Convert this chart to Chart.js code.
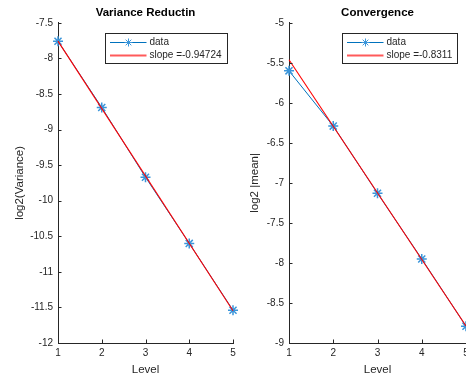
<!DOCTYPE html>
<html>
<head>
<meta charset="utf-8">
<script src="https://cdn.jsdelivr.net/npm/chart.js@4/dist/chart.umd.min.js"></script>
<style>
  html, body { margin: 0; padding: 0; background: #fff; overflow: hidden; width: 466px; height: 383px; }
  #wrap { position: relative; width: 466px; height: 383px; overflow: hidden; }
  canvas { position: absolute; top: 0; }
</style>
</head>
<body>
<div id="wrap">
  <canvas id="c1" width="240" height="383" style="left:0px"></canvas>
  <canvas id="c2" width="240" height="383" style="left:240px"></canvas>
</div>
<script>
// ---- data ----
const levels = [1, 2, 3, 4, 5];
const varianceLog2 = [-7.76, -8.69, -9.67, -10.60, -11.54];
const meanLog2 = [-5.60, -6.29, -7.13, -7.95, -8.79];
const fitLevels = [1, 5];
const varianceFit = [-7.757, -11.546];
const meanFit = [-5.462, -8.787];
const varianceSlopeLabel = 'slope =-0.94724';
const meanSlopeLabel = 'slope =-0.8311';
const xTicks = [1, 2, 3, 4, 5];

const AX = '#262626';
const FONT = "'Liberation Sans', Arial, Helvetica, sans-serif";

const inwardTicks = {
  id: 'inwardTicks',
  afterDraw(chart) {
    const ctx = chart.ctx, ca = chart.chartArea;
    const xs = chart.scales.x, ys = chart.scales.y;
    ctx.save();
    ctx.strokeStyle = AX;
    ctx.lineWidth = 1;
    ctx.beginPath();
    xs.ticks.forEach(t => {
      const p = Math.round(xs.getPixelForValue(t.value)) + 0.5;
      ctx.moveTo(p, ca.bottom); ctx.lineTo(p, ca.bottom - 3.5);
    });
    ys.ticks.forEach(t => {
      const p = Math.round(ys.getPixelForValue(t.value)) + 0.5;
      ctx.moveTo(ca.left, p); ctx.lineTo(ca.left + 3.5, p);
    });
    ctx.stroke();
    ctx.restore();
  }
};

const boxLegend = {
  id: 'boxLegend',
  afterDraw(chart, args, opts) {
    const ctx = chart.ctx, ca = chart.chartArea;
    const w = opts.width, h = 30;
    const x0 = Math.round(ca.right - opts.rightGap - w) + 0.5;
    const y0 = Math.round(ca.top + 10) + 0.5;
    ctx.save();
    ctx.fillStyle = '#fff';
    ctx.fillRect(x0, y0, w, h);
    ctx.strokeStyle = AX;
    ctx.lineWidth = 1;
    ctx.strokeRect(x0, y0, w, h);
    const ds = chart.data.datasets;
    const rows = [y0 + 9, y0 + 22];
    ctx.font = '10px ' + FONT;
    ctx.textBaseline = 'middle';
    ctx.textAlign = 'left';
    ctx.strokeStyle = ds[0].borderColor;
    ctx.lineWidth = 1;
    ctx.beginPath();
    ctx.moveTo(x0 + 4.5, rows[0]); ctx.lineTo(x0 + 41, rows[0]);
    ctx.stroke();
    ctx.strokeStyle = ds[0].pointBorderColor;
    ctx.fillStyle = ds[0].pointBorderColor;
    Chart.helpers.drawPoint(ctx, { pointStyle: 'star', radius: 4, borderWidth: 1.3 }, x0 + 23, rows[0]);
    ctx.strokeStyle = '#ff5a5a';
    ctx.lineWidth = 2;
    ctx.beginPath();
    ctx.moveTo(x0 + 4.5, rows[1]); ctx.lineTo(x0 + 41, rows[1]);
    ctx.stroke();
    ctx.fillStyle = AX;
    ctx.fillText(ds[0].label, x0 + 44, rows[0]);
    ctx.fillText(ds[1].label, x0 + 44, rows[1]);
    ctx.restore();
  }
};

function makeChart(id, cfg) {
  const dataPts = levels.map((l, i) => ({ x: l, y: cfg.values[i] }));
  const fitPts = fitLevels.map((l, i) => ({ x: l, y: cfg.fit[i] }));
  return new Chart(document.getElementById(id), {
    type: 'line',
    data: {
      datasets: [
        {
          label: 'data', data: dataPts, order: 1, clip: false,
          borderColor: '#0072BD', borderWidth: 1,
          pointStyle: 'star', pointRadius: 5, pointBorderWidth: 1.5,
          pointBorderColor: '#3a95da', pointBackgroundColor: '#3a95da'
        },
        {
          label: cfg.slopeLabel, data: fitPts, order: 0, clip: false,
          borderColor: '#FF0000', borderWidth: 1.1, pointRadius: 0
        }
      ]
    },
    options: {
      responsive: false,
      animation: false,
      devicePixelRatio: 1,
      layout: { padding: { top: 0, left: 0, right: cfg.padRight, bottom: 0 } },
      plugins: {
        legend: { display: false },
        tooltip: { enabled: false },
        title: {
          display: true, text: cfg.title, fullSize: false,
          color: '#000', font: { family: FONT, size: 11.5, weight: 'bold' },
          padding: { top: 6, bottom: 3 }
        },
        boxLegend: { width: cfg.legendW, rightGap: cfg.legendGap }
      },
      scales: {
        x: {
          type: 'linear', min: 1, max: 5,
          afterBuildTicks: s => { s.ticks = xTicks.map(v => ({ value: v })); },
          afterFit: s => { s.height = 40; },
          grid: { display: true, drawOnChartArea: false, drawTicks: false },
          border: { display: true, color: AX, width: 1 },
          ticks: { color: AX, font: { family: FONT, size: 10 }, padding: 4, maxRotation: 0 },
          title: { display: true, text: 'Level', color: AX, font: { family: FONT, size: 11.5 }, padding: { top: 0, bottom: 6 } }
        },
        y: {
          type: 'linear', min: cfg.yMin, max: cfg.yMax,
          afterBuildTicks: s => { s.ticks = cfg.yTicks.map(v => ({ value: v })); },
          afterFit: s => { s.width = cfg.yWidth; },
          grid: { display: true, drawOnChartArea: false, drawTicks: false },
          border: { display: true, color: AX, width: 1 },
          ticks: { color: AX, font: { family: FONT, size: 10 }, padding: 5, callback: v => String(v) },
          title: { display: true, text: cfg.yTitle, color: AX, font: { family: FONT, size: 11.5 }, padding: { top: cfg.yTitlePad, bottom: 0 } }
        }
      }
    },
    plugins: [inwardTicks, boxLegend]
  });
}

const varianceTicks = [-12, -11.5, -11, -10.5, -10, -9.5, -9, -8.5, -8, -7.5];
const meanTicks = [-9, -8.5, -8, -7.5, -7, -6.5, -6, -5.5, -5];

makeChart('c1', {
  values: varianceLog2, fit: varianceFit, slopeLabel: varianceSlopeLabel,
  title: 'Variance Reductin', yTitle: 'log2(Variance)',
  yMin: -12, yMax: -7.5, yTicks: varianceTicks,
  yWidth: 58, padRight: 7, yTitlePad: 13.4, legendW: 122, legendGap: 6
});
makeChart('c2', {
  values: meanLog2, fit: meanFit, slopeLabel: meanSlopeLabel,
  title: 'Convergence', yTitle: 'log2 |mean|',
  yMin: -9, yMax: -5, yTicks: meanTicks,
  yWidth: 49, padRight: 14, yTitlePad: 8.4, legendW: 115, legendGap: 9
});
</script>
</body>
</html>
